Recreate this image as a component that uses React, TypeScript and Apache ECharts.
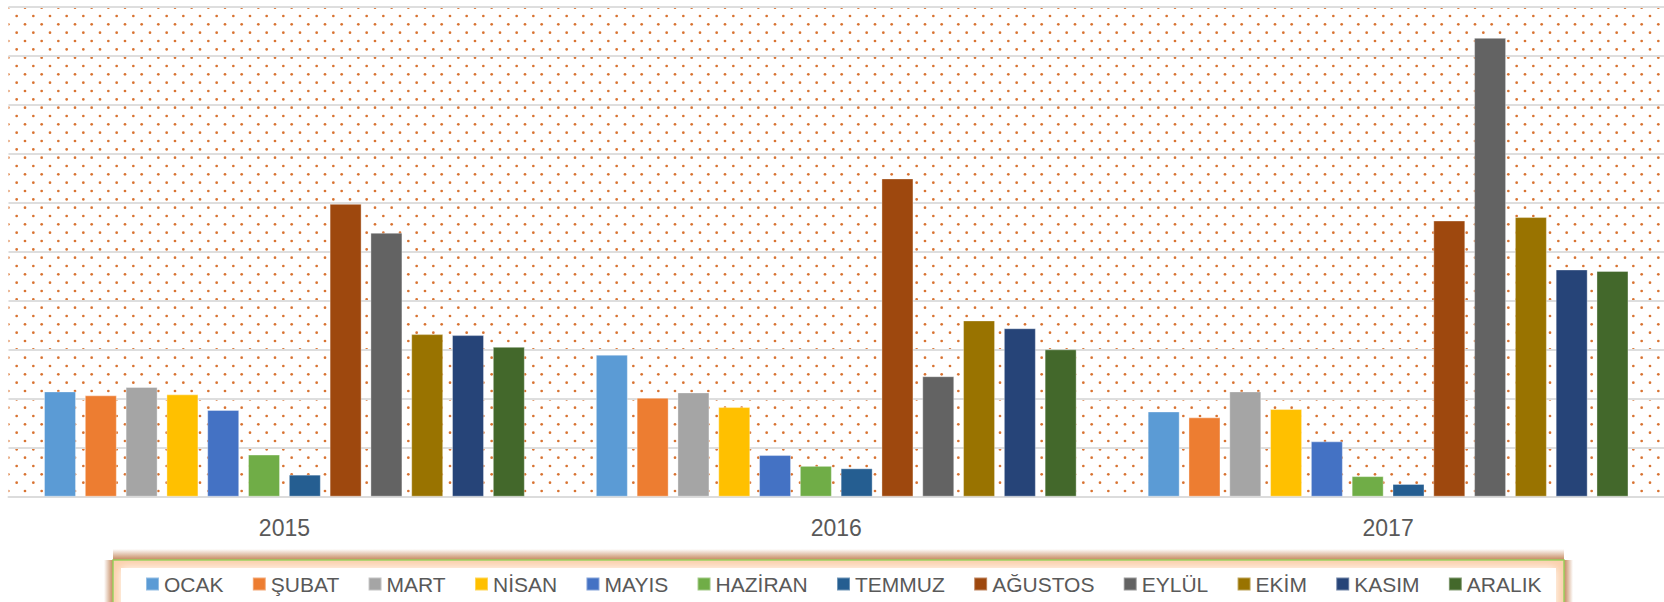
import React, { useEffect, useRef } from "react";
import * as echarts from "echarts";

const years = ["2015", "2016", "2017"];
const months = ["OCAK", "ŞUBAT", "MART", "NİSAN", "MAYIS", "HAZİRAN", "TEMMUZ", "AĞUSTOS", "EYLÜL", "EKİM", "KASIM", "ARALIK"];
const values2015 = [215, 207, 224, 209, 177, 86, 45, 598, 539, 332, 330, 306];
const values2016 = [290, 202, 213, 183, 85, 63, 58, 650, 246, 360, 344, 301];
const values2017 = [174, 162, 215, 179, 113, 42, 26, 564, 937, 571, 464, 461];
const colors = ["#5B9BD5", "#ED7D31", "#A5A5A5", "#FFC000", "#4472C4", "#70AD47", "#255E91", "#9E480E", "#636363", "#997300", "#264478", "#43682B"];

function makeDots(): string {
  const c = document.createElement("canvas");
  c.width = 50;
  c.height = 50;
  const ctx = c.getContext("2d")!;
  ctx.fillStyle = "rgba(212,100,28,0.9)";
  const sx = 50 / 3;
  const sy = 50 / 6;
  for (let j = 0; j < 6; j++) {
    const y = 7.67 + sy * j;
    const off = j % 2 === 0 ? sx / 2 : 0;
    for (let i = -1; i < 4; i++) {
      const x = off + sx * i;
      for (const dy of [0, -50, 50]) {
        ctx.beginPath();
        ctx.arc(x, y + dy, 1.35, 0, Math.PI * 2);
        ctx.fill();
      }
    }
  }
  return c.toDataURL();
}

const shadowC = "rgba(185,112,60,0.85)";
const shadowT = "rgba(185,112,60,0)";
function grad(x: number, y: number, x2: number, y2: number) {
  return {
    type: "linear",
    x, y, x2, y2,
    colorStops: [
      { offset: 0, color: shadowT },
      { offset: 1, color: shadowC },
    ],
  };
}

export default function App() {
  const ref = useRef<HTMLDivElement>(null);
  useEffect(() => {
    if (!ref.current) return;
    const chart = echarts.init(ref.current, null, { renderer: "svg" });
    const font = "'Liberation Sans', Arial, sans-serif";
    const series = months.map((m, i) => ({
      name: m,
      type: "bar",
      data: [values2015[i], values2016[i], values2017[i]],
      barWidth: 32,
      barGap: "27.5%",
      itemStyle: { color: colors[i], borderColor: "rgba(255,255,255,0.35)", borderWidth: 1 },
      z: 5,
    }));
    chart.setOption({
      animation: false,
      color: colors,
      grid: {
        left: 8.5,
        top: 7,
        width: 1660,
        height: 489.7,
        show: true,
        borderWidth: 0,
        backgroundColor: { image: makeDots(), repeat: "repeat", imageWidth: 50, imageHeight: 50 },
      },
      xAxis: {
        type: "category",
        data: years,
        axisLine: { lineStyle: { color: "#dcdcdc", width: 2 } },
        axisTick: { show: false },
        axisLabel: { fontSize: 23, color: "#595959", margin: 20, fontFamily: font },
      },
      yAxis: {
        type: "value",
        min: 0,
        max: 1000,
        interval: 100,
        axisLabel: { show: false },
        axisLine: { show: false },
        axisTick: { show: false },
        splitLine: { lineStyle: { color: "#dedede", width: 2 } },
      },
      legend: {
        left: 140,
        top: 568,
        itemWidth: 13,
        itemHeight: 13,
        itemGap: 28.3,
        icon: "rect",
        z: 20,
        textStyle: { fontSize: 21, color: "#595959", fontFamily: font, lineHeight: 22 },
      },
      graphic: [
        {
          type: "rect",
          z: 0,
          shape: { x: 113, y: 549, width: 1451, height: 11 },
          style: { fill: grad(0, 0, 0, 1) },
        },
        {
          type: "rect",
          z: 0,
          shape: { x: 104, y: 560, width: 9, height: 50 },
          style: { fill: grad(0, 0, 1, 0) },
        },
        {
          type: "rect",
          z: 0,
          shape: { x: 1564, y: 560, width: 9, height: 50 },
          style: { fill: grad(1, 0, 0, 0) },
        },
        {
          type: "rect",
          z: 1,
          shape: { x: 113, y: 560, width: 1451, height: 70 },
          style: {
            fill: "#fbd0ac",
            stroke: "#98d05a",
            lineWidth: 1.5,
          },
        },
        {
          type: "rect",
          z: 2,
          shape: { x: 121, y: 568, width: 1435, height: 60 },
          style: { fill: "#ffffff", shadowBlur: 10, shadowColor: "#ffffff" },
        },
      ],
      series,
    });
    return () => chart.dispose();
  }, []);
  return <div ref={ref} style={{ position: "absolute", left: 0, top: 0, width: 1664, height: 602 }} />;
}
